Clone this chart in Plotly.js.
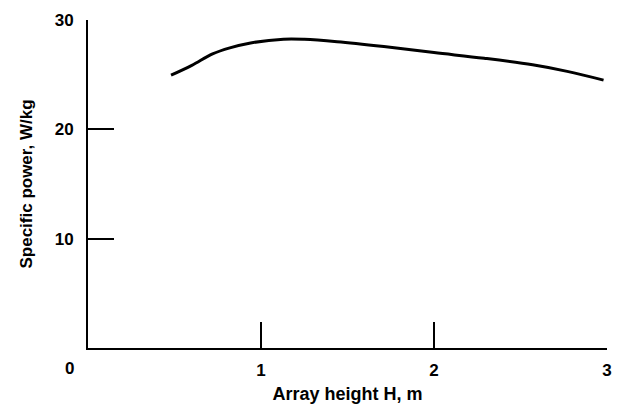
<!DOCTYPE html>
<html>
<head>
<meta charset="utf-8">
<script src="https://cdn.plot.ly/plotly-3.0.1.min.js"></script>
<style>html,body{margin:0;padding:0;background:#fff;}#chart{width:619px;height:407px;}</style>
</head>
<body>
<div id="chart"></div>
<script>
var heightH = [0.48, 0.60, 0.72, 0.82, 0.94, 1.13, 1.25, 1.44, 1.71, 2.00, 2.29, 2.57, 2.77, 2.98];
var specificPower = [24.95, 25.85, 26.9, 27.45, 27.9, 28.25, 28.24, 28.02, 27.57, 27.02, 26.5, 25.9, 25.3, 24.5];
var xTickVals = [1, 2, 3];
var xTickText = ['1', '2', '3'];
var yTickVals = [10, 20, 30];
var yTickText = ['10', '20', '30'];

var fontFam = 'Liberation Sans, Arial, sans-serif';
var trace = {
  x: heightH, y: specificPower, mode: 'lines', type: 'scatter',
  line: {color: '#000', width: 3, shape: 'spline', smoothing: 1},
  hoverinfo: 'skip'
};
var layout = {
  width: 619, height: 407,
  margin: {l: 88, r: 12, t: 20, b: 59},
  paper_bgcolor: '#fff', plot_bgcolor: '#fff',
  showlegend: false,
  font: {family: fontFam, size: 17, color: '#000', weight: 'bold'},
  xaxis: {
    range: [0, 3], showgrid: false, zeroline: false,
    showline: true, linecolor: '#000', linewidth: 2,
    ticks: 'inside', ticklen: 26, tickwidth: 2, tickcolor: '#000',
    tickvals: xTickVals, ticktext: xTickText, ticklabelstandoff: 6,
    tickfont: {family: fontFam, size: 17, color: '#000', weight: 'bold'},
    title: {text: 'Array height H, m', standoff: 8, font: {family: fontFam, size: 18, color: '#000', weight: 'bold'}}
  },
  yaxis: {
    range: [0, 30], showgrid: false, zeroline: false,
    showline: true, linecolor: '#000', linewidth: 2,
    ticks: 'inside', ticklen: 26, tickwidth: 2, tickcolor: '#000',
    tickvals: yTickVals, ticktext: yTickText, ticklabelstandoff: 9,
    tickfont: {family: fontFam, size: 17, color: '#000', weight: 'bold'},
    title: {text: 'Specific power, W/kg', standoff: 18, font: {family: fontFam, size: 17, color: '#000', weight: 'bold'}}
  },
  annotations: [{
    text: '0', xref: 'paper', yref: 'paper', x: -0.036, y: 0, yshift: -20,
    showarrow: false, xanchor: 'center', yanchor: 'middle',
    font: {family: fontFam, size: 17, color: '#000', weight: 'bold'}
  }]
};
Plotly.newPlot('chart', [trace], layout, {displayModeBar: false, staticPlot: true});
</script>
</body>
</html>
